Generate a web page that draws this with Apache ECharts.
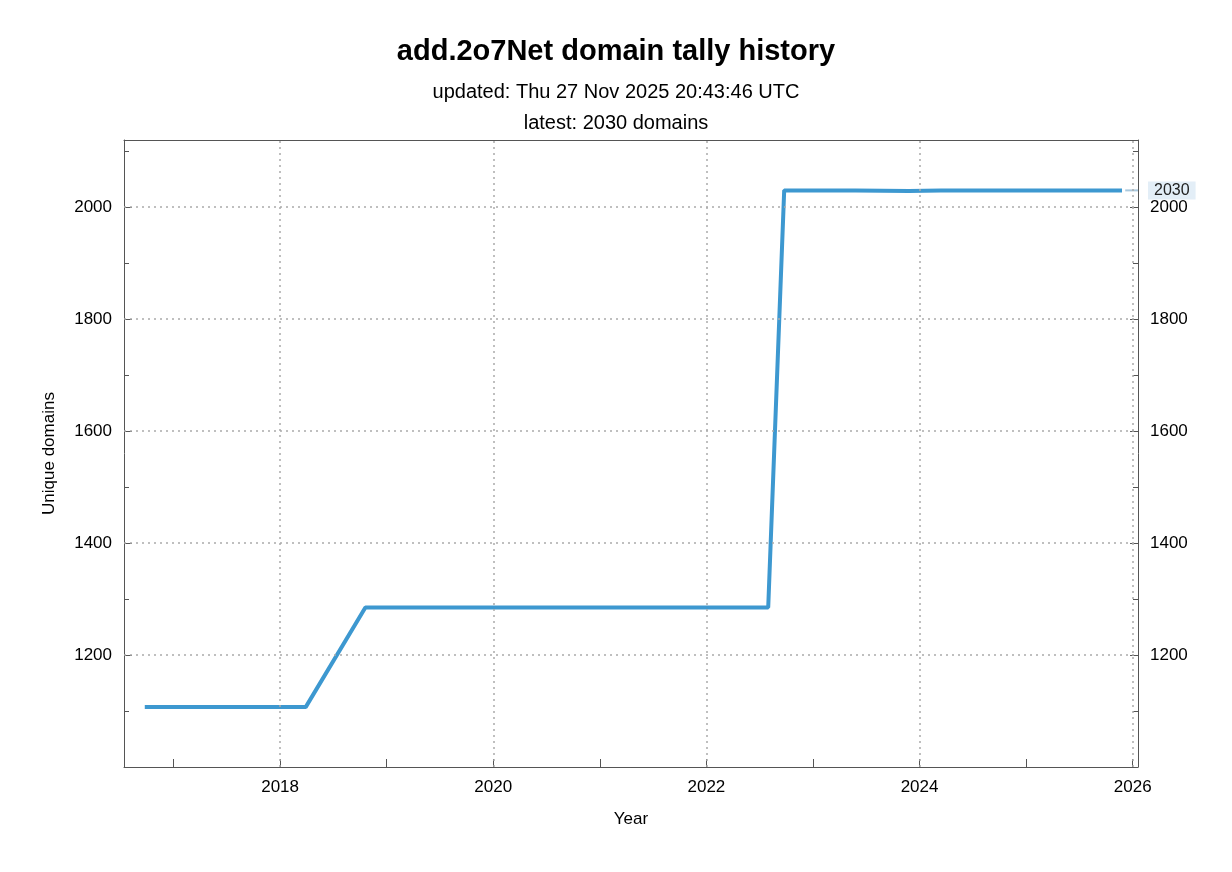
<!DOCTYPE html>
<html><head><meta charset="utf-8">
<script src="https://cdn.jsdelivr.net/npm/echarts@6/dist/echarts.min.js"></script>
<style>html,body{margin:0;padding:0;background:#fff}#c{width:1232px;height:872px}</style>
</head><body><div id="c"></div>
<script>
const years = [2016.73, 2018.24, 2018.80, 2022.58, 2022.73, 2023.40, 2023.90, 2024.20, 2025.90];
const domains = [1107, 1107, 1285, 1285, 2030, 2030, 2029, 2030, 2030];
const xLabelYears = [2018, 2020, 2022, 2024, 2026];
const xTickYears = [2017, 2018, 2019, 2020, 2021, 2022, 2023, 2024, 2025, 2026];
const yGridValues = [1200, 1400, 1600, 1800, 2000];
const latest = 2030;

const chart = echarts.init(document.getElementById('c'));
const font = 'Liberation Sans, Arial, sans-serif';
const fmt = v => String(Math.round(v));
const axisCommon = {
  axisLine: {show: true, lineStyle: {color: '#555'}},
  axisLabel: {color: '#000', fontSize: 17, fontFamily: font, formatter: fmt},
};
const gridLines = xLabelYears.map(v => ({xAxis: v})).concat(yGridValues.map(v => ({yAxis: v})));
chart.setOption({
  animation: false,
  title: [
    {text: 'add.2o7Net domain tally history', left: 'center', top: 32, textStyle: {fontSize: 29, fontWeight: 'bold', color: '#000', fontFamily: font}},
    {text: 'updated: Thu 27 Nov 2025 20:43:46 UTC', left: 'center', top: 77, textStyle: {fontSize: 20, fontWeight: 'normal', color: '#000', fontFamily: font}},
    {text: 'latest: 2030 domains', left: 'center', top: 108, textStyle: {fontSize: 20, fontWeight: 'normal', color: '#000', fontFamily: font}}
  ],
  grid: {left: 124, right: 94, top: 140, bottom: 105},
  xAxis: [{
    type: 'value', min: 2016.535, max: 2026.05,
    name: 'Year', nameLocation: 'middle', nameGap: 44,
    nameTextStyle: {fontSize: 17, color: '#000', fontFamily: font},
    ...axisCommon,
    axisLabel: {...axisCommon.axisLabel, customValues: xLabelYears, margin: 12},
    axisTick: {show: true, inside: true, length: 8, customValues: xTickYears, lineStyle: {color: '#555'}},
    splitLine: {show: false}
  }, {
    type: 'value', min: 2016.535, max: 2026.05, position: 'top',
    axisLine: {show: true, lineStyle: {color: '#555'}}, axisLabel: {show: false}, axisTick: {show: false}, splitLine: {show: false}
  }],
  yAxis: [{
    type: 'value', min: 1000, max: 2120, interval: 200,
    name: 'Unique domains', nameLocation: 'middle', nameGap: 66,
    nameTextStyle: {fontSize: 17, color: '#000', fontFamily: font},
    ...axisCommon,
    axisLabel: {...axisCommon.axisLabel, showMinLabel: false, showMaxLabel: false, margin: 12},
    axisTick: {show: true, inside: true, length: 8, lineStyle: {color: '#555'}},
    minorTick: {show: true, splitNumber: 2, length: 5, lineStyle: {color: '#555'}},
    splitLine: {show: false}
  }, {
    type: 'value', min: 1000, max: 2120, interval: 200, position: 'right',
    ...axisCommon,
    axisLabel: {...axisCommon.axisLabel, showMinLabel: false, showMaxLabel: false, margin: 12},
    axisTick: {show: true, inside: true, length: 8, lineStyle: {color: '#555'}},
    minorTick: {show: true, splitNumber: 2, length: 5, lineStyle: {color: '#555'}},
    splitLine: {show: false}
  }],
  series: [{
    type: 'line', data: years.map((y, i) => [y, domains[i]]),
    showSymbol: false, lineStyle: {color: '#3d98d0', width: 4},
    markLine: {silent: true, symbol: 'none', label: {show: false},
      lineStyle: {type: [2, 4], color: '#aaa', width: 1.5}, data: gridLines},
    endLabel: {show: true, formatter: String(latest), distance: 26, fontSize: 16, color: '#222',
      backgroundColor: '#e3eef7', padding: [1, 6], fontFamily: font}
  }, {
    type: 'line', data: [[2025.93, latest], [2026.05, latest]], showSymbol: false,
    lineStyle: {color: '#a9c8dd', width: 2}, clip: false
  }]
});
</script></body></html>
